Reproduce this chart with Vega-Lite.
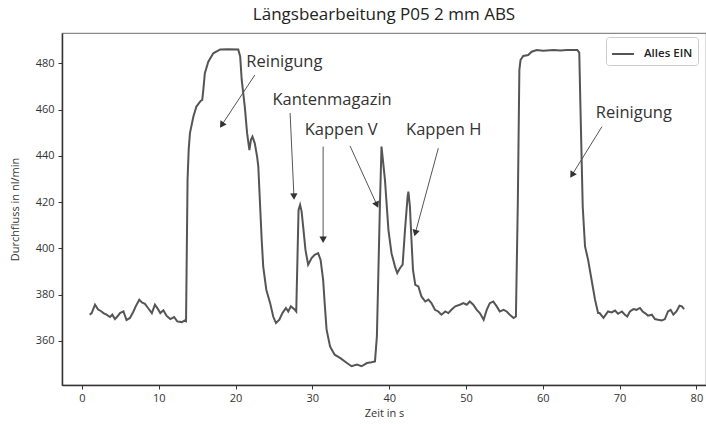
{
  "$schema": "https://vega.github.io/schema/vega-lite/v6.json",
  "autosize": {"type": "none"},
  "padding": {"left": 62, "top": 33, "right": 0, "bottom": 39},
  "width": 644,
  "height": 352,
  "background": "white",
  "title": {"text": "Längsbearbeitung P05 2 mm ABS", "fontSize": 17, "font": "Open Sans", "fontWeight": "normal", "color": "#222", "offset": 9, "anchor": "middle"},
  "config": {
    "font": "Open Sans",
    "view": {"stroke": "#8a8a8a", "strokeWidth": 1.2},
    "axis": {"grid": false, "domainColor": "#333", "domainWidth": 1.5, "tickColor": "#333", "tickSize": 4, "tickWidth": 1, "labelColor": "#333", "labelFontSize": 11, "titleColor": "#333", "titleFontSize": 11, "titleFontWeight": "normal", "labelFont": "Open Sans", "titleFont": "Open Sans"}
  },
  "datasets": {
    "flow": [
      {"t":1.0,"q":371.3},{"t":1.26,"q":372},{"t":1.7,"q":375.6},{"t":2.1,"q":373.5},{"t":2.5,"q":372.8},{"t":2.8,"q":372},{"t":3.2,"q":371.3},{"t":3.65,"q":370.3},{"t":3.95,"q":371.3},{"t":4.3,"q":369.4},{"t":4.6,"q":370.5},{"t":4.95,"q":372},{"t":5.4,"q":372.7},{"t":5.8,"q":369},{"t":6.25,"q":369.9},{"t":6.7,"q":372.7},{"t":7.0,"q":374.9},{"t":7.46,"q":377.8},{"t":7.8,"q":376.6},{"t":8.2,"q":376},{"t":8.6,"q":374.2},{"t":9.1,"q":372},{"t":9.5,"q":375.6},{"t":9.9,"q":373.7},{"t":10.2,"q":372},{"t":10.6,"q":373.2},{"t":11.0,"q":370.9},{"t":11.5,"q":369.4},{"t":12.0,"q":370.3},{"t":12.4,"q":368.4},{"t":13.0,"q":368.1},{"t":13.4,"q":368.8},{"t":13.55,"q":368.5},{"t":13.75,"q":430},{"t":13.9,"q":443},{"t":14.06,"q":449.8},{"t":14.5,"q":456.9},{"t":14.9,"q":461.3},{"t":15.45,"q":463.7},{"t":15.66,"q":464.2},{"t":15.8,"q":468.5},{"t":16.0,"q":475.7},{"t":16.45,"q":480.7},{"t":17.1,"q":484.3},{"t":18.0,"q":486},{"t":19.0,"q":486.1},{"t":20.35,"q":486},{"t":20.6,"q":482.9},{"t":20.8,"q":472.8},{"t":21.2,"q":461.3},{"t":21.5,"q":449.8},{"t":21.8,"q":442.5},{"t":22.0,"q":446.9},{"t":22.2,"q":448.3},{"t":22.5,"q":445.4},{"t":22.8,"q":439.7},{"t":22.96,"q":435.3},{"t":23.2,"q":418},{"t":23.4,"q":403.7},{"t":23.6,"q":392.1},{"t":24.0,"q":382.1},{"t":24.5,"q":376.3},{"t":24.9,"q":370.5},{"t":25.26,"q":367.7},{"t":25.7,"q":369.1},{"t":26.1,"q":372},{"t":26.56,"q":374.2},{"t":26.86,"q":372.7},{"t":27.2,"q":374.9},{"t":27.65,"q":373.7},{"t":27.9,"q":372.7},{"t":28.2,"q":416.6},{"t":28.4,"q":418.8},{"t":28.6,"q":415.9},{"t":28.8,"q":409.4},{"t":29.1,"q":399.3},{"t":29.45,"q":392.9},{"t":29.9,"q":395.8},{"t":30.3,"q":397.2},{"t":30.75,"q":397.9},{"t":31.07,"q":395},{"t":31.4,"q":386.4},{"t":31.6,"q":376.3},{"t":31.85,"q":364.8},{"t":32.3,"q":357.6},{"t":32.9,"q":354},{"t":33.6,"q":352.6},{"t":34.5,"q":350.4},{"t":35.1,"q":349},{"t":35.8,"q":349.7},{"t":36.4,"q":349},{"t":37.1,"q":350.4},{"t":37.7,"q":350.7},{"t":38.15,"q":351.1},{"t":38.4,"q":361.9},{"t":38.6,"q":390.7},{"t":38.8,"q":419.5},{"t":39.0,"q":444},{"t":39.45,"q":429.6},{"t":39.9,"q":408},{"t":40.3,"q":397.9},{"t":40.76,"q":392.1},{"t":41.05,"q":389.3},{"t":41.4,"q":391.4},{"t":41.75,"q":392.9},{"t":42.06,"q":408},{"t":42.4,"q":422.4},{"t":42.5,"q":424.5},{"t":42.7,"q":418},{"t":42.9,"q":403.7},{"t":43.1,"q":390.7},{"t":43.4,"q":384.2},{"t":43.8,"q":383.5},{"t":44.2,"q":379.2},{"t":44.7,"q":377},{"t":45.1,"q":377.8},{"t":45.5,"q":376.3},{"t":45.96,"q":373.4},{"t":46.4,"q":372.7},{"t":46.8,"q":371.3},{"t":47.3,"q":372.7},{"t":47.7,"q":372},{"t":48.1,"q":373.4},{"t":48.6,"q":374.9},{"t":49.2,"q":375.6},{"t":49.65,"q":376.3},{"t":50.1,"q":375.6},{"t":50.5,"q":377},{"t":50.95,"q":375.6},{"t":51.4,"q":373.4},{"t":51.8,"q":372},{"t":52.3,"q":369.1},{"t":52.7,"q":373.4},{"t":53.1,"q":376.3},{"t":53.55,"q":377},{"t":54.0,"q":374.9},{"t":54.4,"q":372.7},{"t":54.9,"q":373.4},{"t":55.3,"q":372.7},{"t":55.7,"q":371.3},{"t":56.2,"q":369.9},{"t":56.5,"q":370.5},{"t":56.75,"q":420},{"t":56.95,"q":477.1},{"t":57.1,"q":481.4},{"t":57.45,"q":483.2},{"t":58.1,"q":483.6},{"t":58.55,"q":485},{"t":59.2,"q":485.7},{"t":60.05,"q":485.4},{"t":61.4,"q":485.7},{"t":62.3,"q":485.5},{"t":63.1,"q":485.7},{"t":64.5,"q":485.7},{"t":64.75,"q":484.6},{"t":64.9,"q":461.3},{"t":65.2,"q":418},{"t":65.5,"q":400.8},{"t":65.9,"q":395},{"t":66.35,"q":386.4},{"t":66.8,"q":377.8},{"t":67.2,"q":372},{"t":67.4,"q":372},{"t":67.9,"q":369.9},{"t":68.2,"q":371.3},{"t":68.5,"q":372.7},{"t":68.97,"q":372.3},{"t":69.4,"q":373.1},{"t":69.8,"q":371.7},{"t":70.3,"q":372.7},{"t":70.7,"q":371.3},{"t":71.0,"q":370.5},{"t":71.35,"q":372.7},{"t":71.8,"q":373.7},{"t":72.2,"q":373.4},{"t":72.65,"q":374.2},{"t":73.0,"q":372.7},{"t":73.3,"q":372},{"t":73.7,"q":370.9},{"t":74.2,"q":371.3},{"t":74.6,"q":369.4},{"t":75.0,"q":369.1},{"t":75.5,"q":368.8},{"t":75.9,"q":369.4},{"t":76.3,"q":372.7},{"t":76.65,"q":373.4},{"t":77.0,"q":371.3},{"t":77.4,"q":372.7},{"t":77.8,"q":375.2},{"t":78.1,"q":374.9},{"t":78.4,"q":373.7}
    ],
    "labels": [
      {"label": "Reinigung", "lx": 21.4, "ly": 478.3},
      {"label": "Kantenmagazin", "lx": 24.8, "ly": 462},
      {"label": "Kappen V", "lx": 29.0, "ly": 449},
      {"label": "Kappen H", "lx": 42.2, "ly": 449},
      {"label": "Reinigung", "lx": 66.9, "ly": 456.2}
    ],
    "arrows": [
      {"tx": 22.5, "ty": 474.9, "hx": 18.2, "hy": 453.3},
      {"tx": 27.1, "ty": 458.5, "hx": 27.6, "hy": 422.4},
      {"tx": 31.4, "ty": 444, "hx": 31.4, "hy": 403.7},
      {"tx": 34.9, "ty": 444.3, "hx": 38.4, "hy": 418.8},
      {"tx": 46.4, "ty": 443.3, "hx": 43.4, "hy": 406.6},
      {"tx": 67.7, "ty": 452.6, "hx": 63.8, "hy": 431.7}
    ]
  },
  "encoding": {},
  "layer": [
    {
      "data": {"name": "flow"},
      "transform": [{"calculate": "'Alles EIN'", "as": "series"}],
      "mark": {"type": "line", "strokeWidth": 2, "interpolate": "linear"},
      "encoding": {
        "x": {"field": "t", "type": "quantitative", "scale": {"domain": [-2.6, 81.25], "nice": false, "zero": false},
              "axis": {"title": "Zeit in s", "values": [0,10,20,30,40,50,60,70,80], "labelFlush": false, "labelPadding": 3, "titlePadding": 4}},
        "y": {"field": "q", "type": "quantitative", "scale": {"domain": [340.9, 493.1], "nice": false, "zero": false},
              "axis": {"title": "Durchfluss in nl/min", "values": [360,380,400,420,440,460,480], "labelFlush": false, "labelPadding": 4, "titlePadding": 15}},
        "color": {"field": "series", "type": "nominal", "scale": {"domain": ["Alles EIN"], "range": ["#555555"]},
                  "legend": {"title": null, "orient": "none", "legendX": 544, "legendY": 4, "symbolType": "stroke", "symbolSize": 480, "symbolStrokeWidth": 2, "labelFontSize": 11.5, "labelFontWeight": 600, "labelOffset": 9, "labelColor": "#222", "labelFont": "Open Sans", "fillColor": "white", "strokeColor": "#cccccc", "padding": 5, "cornerRadius": 3}}
      }
    },
    {
      "data": {"name": "arrows"},
      "mark": {"type": "rule", "color": "#555555", "strokeWidth": 1},
      "encoding": {
        "x": {"field": "tx", "type": "quantitative"},
        "y": {"field": "ty", "type": "quantitative"},
        "x2": {"field": "hx"},
        "y2": {"field": "hy"}
      }
    },
    {
      "data": {"name": "arrows"},
      "transform": [{"calculate": "atan2((datum.hx - datum.tx) * 7.68, (datum.hy - datum.ty) * 2.315) * 180 / PI", "as": "ang"}],
      "mark": {"type": "point", "shape": "triangle-up", "filled": true, "color": "#333333", "size": 55, "opacity": 1},
      "encoding": {
        "x": {"field": "hx", "type": "quantitative"},
        "y": {"field": "hy", "type": "quantitative"},
        "angle": {"field": "ang", "type": "quantitative", "scale": null}
      }
    },
    {
      "data": {"name": "labels"},
      "mark": {"type": "text", "align": "left", "baseline": "alphabetic", "fontSize": 16.5, "font": "Open Sans", "color": "#333333"},
      "encoding": {
        "x": {"field": "lx", "type": "quantitative"},
        "y": {"field": "ly", "type": "quantitative"},
        "text": {"field": "label"}
      }
    }
  ]
}
